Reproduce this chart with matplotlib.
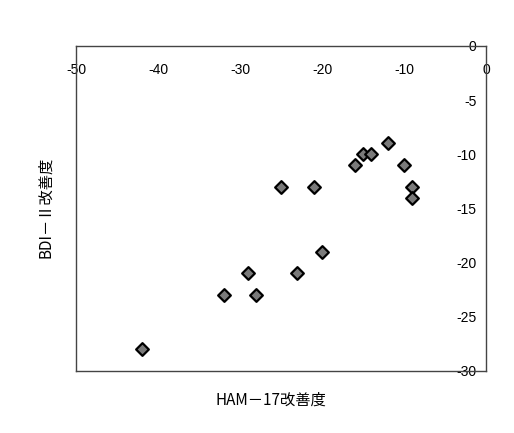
import matplotlib
matplotlib.use("Agg")
import matplotlib.pyplot as plt

# HAM-17 improvement (x) vs BDI-II improvement (y)
ham17 = [-42, -32, -28, -29, -23, -20, -25, -21, -16, -15, -14, -12, -10, -9, -9]
bdi2 = [-28, -23, -23, -21, -21, -19, -13, -13, -11, -10, -10, -9, -11, -13, -14]
xticks = [-50, -40, -30, -20, -10, 0]
yticks = [0, -5, -10, -15, -20, -25, -30]

plt.rcParams['axes.unicode_minus'] = False
plt.rcParams['font.family'] = ['Liberation Sans', 'DejaVu Sans']

fig = plt.figure(figsize=(5.14, 4.33), dpi=100)
ax = fig.add_axes([0.148, 0.1432, 0.7975, 0.7506])

ax.scatter(ham17, bdi2, marker='D', s=42, facecolor='#7a7a7a',
           edgecolor='black', linewidth=1.6, zorder=3)

ax.set_xlim(-50, 0)
ax.set_ylim(-30, 0)

# axes cross at (0, 0): x labels hang under the top edge, y labels sit left of the right edge
ax.spines['bottom'].set_position(('data', 0))
ax.spines['top'].set_position(('data', -30))
ax.spines['left'].set_position(('data', 0))
ax.spines['right'].set_position(('data', -50))
for sp in ax.spines.values():
    sp.set_color('#444444')
    sp.set_linewidth(1.0)

ax.set_xticks(xticks)
ax.set_yticks(yticks)
ax.set_xticklabels([str(v) for v in xticks])
ax.set_yticklabels([str(v) for v in yticks])
ax.tick_params(axis='x', length=0, pad=12, labelsize=10)
ax.tick_params(axis='y', length=0, pad=7, labelsize=10)

cjk = ['Noto Sans CJK JP', 'DejaVu Sans']
fig.text(0.527, 0.076, 'HAM－17改善度', ha='center', va='center',
         fontsize=11, family=cjk)
fig.text(0.089, 0.52, 'BDI－Ⅱ改善度', ha='center', va='center',
         rotation=90, fontsize=11, family=cjk)

fig.savefig('out.png', dpi=100)
